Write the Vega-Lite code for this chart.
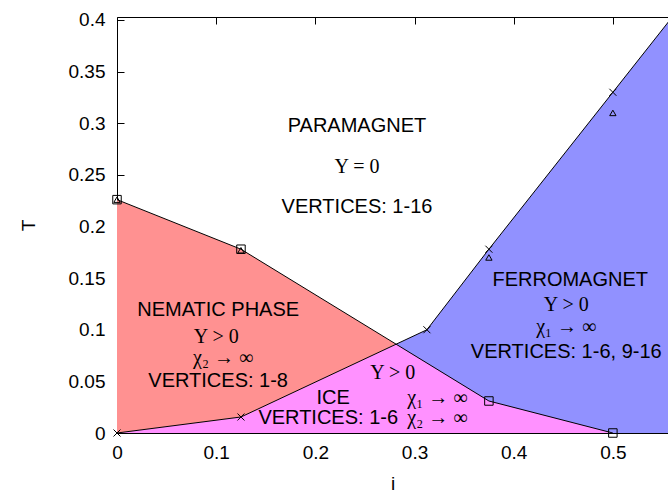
{
  "$schema": "https://vega.github.io/schema/vega-lite/v6.json",
  "width": 551,
  "height": 416,
  "autosize": {"type": "none"},
  "padding": {"left": 117, "top": 17, "right": 0, "bottom": 59},
  "background": "white",
  "config": {
    "view": {"stroke": null},
    "font": "Liberation Sans",
    "axis": {
      "domainColor": "black",
      "domainWidth": 1,
      "tickColor": "black",
      "tickWidth": 1,
      "tickSize": -7,
      "grid": false,
      "labelFlush": false,
      "labelFont": "Liberation Sans",
      "labelFontSize": 19,
      "labelColor": "black",
      "titleFont": "Liberation Sans",
      "titleFontSize": 19,
      "titleFontWeight": "normal",
      "titleColor": "black"
    }
  },
  "datasets": {
    "ferro": [
      {"i": 0.2814, "T": 0.086},
      {"i": 0.3125, "T": 0.1},
      {"i": 0.375, "T": 0.178},
      {"i": 0.5, "T": 0.33},
      {"i": 0.56, "T": 0.403}
    ],
    "ice": [
      {"i": 0, "T": 0},
      {"i": 0.125, "T": 0.0155},
      {"i": 0.2814, "T": 0.086},
      {"i": 0.375, "T": 0.031},
      {"i": 0.5, "T": 0}
    ],
    "nematic": [
      {"i": 0, "T": 0.226, "T0": 0},
      {"i": 0.125, "T": 0.178, "T0": 0.0155},
      {"i": 0.2814, "T": 0.086, "T0": 0.086}
    ],
    "boundaries": [
      {"line": "upper", "i": 0, "T": 0.226},
      {"line": "upper", "i": 0.125, "T": 0.178},
      {"line": "upper", "i": 0.375, "T": 0.031},
      {"line": "upper", "i": 0.5, "T": 0},
      {"line": "lower", "i": 0, "T": 0},
      {"line": "lower", "i": 0.125, "T": 0.0155},
      {"line": "lower", "i": 0.3125, "T": 0.1},
      {"line": "lower", "i": 0.375, "T": 0.178},
      {"line": "lower", "i": 0.5, "T": 0.33},
      {"line": "lower", "i": 0.56, "T": 0.403}
    ],
    "markers": [
      {"kind": "square", "i": 0, "T": 0.226},
      {"kind": "square", "i": 0.125, "T": 0.178},
      {"kind": "square", "i": 0.375, "T": 0.031},
      {"kind": "square", "i": 0.5, "T": 0},
      {"kind": "triangle", "i": 0, "T": 0.226},
      {"kind": "triangle", "i": 0.125, "T": 0.177},
      {"kind": "triangle", "i": 0.375, "T": 0.17},
      {"kind": "triangle", "i": 0.5, "T": 0.31},
      {"kind": "cross", "i": 0, "T": 0},
      {"kind": "cross", "i": 0.125, "T": 0.0155},
      {"kind": "cross", "i": 0.3125, "T": 0.1},
      {"kind": "cross", "i": 0.375, "T": 0.178},
      {"kind": "cross", "i": 0.5, "T": 0.33}
    ],
    "labels_sans": [
      {"i": 0.242, "T": 0.2973, "text": "PARAMAGNET"},
      {"i": 0.242, "T": 0.2189, "text": "VERTICES: 1-16"},
      {"i": 0.102, "T": 0.1191, "text": "NEMATIC PHASE"},
      {"i": 0.102, "T": 0.0504, "text": "VERTICES: 1-8"},
      {"i": 0.218, "T": 0.0339, "text": "ICE"},
      {"i": 0.213, "T": 0.0145, "text": "VERTICES: 1-6"},
      {"i": 0.457, "T": 0.1482, "text": "FERROMAGNET"},
      {"i": 0.453, "T": 0.0785, "text": "VERTICES: 1-6, 9-16"}
    ],
    "labels_serif": [
      {"i": 0.242, "T": 0.2576, "text": "Υ = 0"},
      {"i": 0.1, "T": 0.093, "text": "Υ > 0"},
      {"i": 0.107, "T": 0.0726, "text": "χ₂ → ∞"},
      {"i": 0.278, "T": 0.0581, "text": "Υ > 0"},
      {"i": 0.323, "T": 0.0339, "text": "χ₁ → ∞"},
      {"i": 0.323, "T": 0.0145, "text": "χ₂ → ∞"},
      {"i": 0.453, "T": 0.124, "text": "Υ > 0"},
      {"i": 0.453, "T": 0.1027, "text": "χ₁ → ∞"}
    ]
  },
  "layer": [
    {
      "data": {"name": "ferro"},
      "mark": {"type": "area", "color": "#9191ff", "clip": true},
      "encoding": {
        "x": {
          "field": "i", "type": "quantitative",
          "scale": {"domain": [0, 0.5556], "nice": false, "zero": false},
          "axis": {"orient": "bottom", "title": "i", "values": [0, 0.1, 0.2, 0.3, 0.4, 0.5], "format": "~g", "labelPadding": 17, "titlePadding": 12}
        },
        "y": {
          "field": "T", "type": "quantitative",
          "scale": {"domain": [0, 0.4029], "nice": false},
          "axis": {"orient": "left", "title": "T", "values": [0, 0.05, 0.1, 0.15, 0.2, 0.25, 0.3, 0.35, 0.4], "format": "~g", "labelPadding": 19, "titlePadding": 30}
        },
        "y2": {"datum": 0}
      }
    },
    {
      "data": {"name": "ice"},
      "mark": {"type": "area", "color": "#ff91ff"},
      "encoding": {
        "x": {"field": "i", "type": "quantitative", "axis": {"orient": "top", "title": null, "labels": false, "values": [0, 0.1, 0.2, 0.3, 0.4, 0.5]}},
        "y": {"field": "T", "type": "quantitative", "axis": null},
        "y2": {"datum": 0}
      }
    },
    {
      "data": {"name": "nematic"},
      "mark": {"type": "area", "color": "#ff9191"},
      "encoding": {
        "x": {"field": "i", "type": "quantitative", "axis": null},
        "y": {"field": "T", "type": "quantitative", "axis": null},
        "y2": {"field": "T0"}
      }
    },
    {
      "data": {"name": "boundaries"},
      "mark": {"type": "line", "color": "black", "strokeWidth": 1, "clip": true},
      "encoding": {
        "x": {"field": "i", "type": "quantitative", "axis": null},
        "y": {"field": "T", "type": "quantitative", "axis": null},
        "detail": {"field": "line"}
      }
    },
    {
      "data": {"name": "markers"},
      "transform": [{"filter": "datum.kind === 'square'"}],
      "mark": {"type": "point", "shape": "square", "filled": false, "color": "black", "size": 72, "strokeWidth": 1, "opacity": 1},
      "encoding": {
        "x": {"field": "i", "type": "quantitative", "axis": null},
        "y": {"field": "T", "type": "quantitative", "axis": null}
      }
    },
    {
      "data": {"name": "markers"},
      "transform": [{"filter": "datum.kind === 'triangle'"}],
      "mark": {"type": "point", "shape": "triangle-up", "filled": false, "color": "black", "size": 40, "strokeWidth": 1, "opacity": 1},
      "encoding": {
        "x": {"field": "i", "type": "quantitative", "axis": null},
        "y": {"field": "T", "type": "quantitative", "axis": null}
      }
    },
    {
      "data": {"name": "markers"},
      "transform": [{"filter": "datum.kind === 'cross'"}],
      "mark": {"type": "point", "shape": "M-1,-1L1,1M1,-1L-1,1", "filled": false, "color": "black", "size": 49, "strokeWidth": 1, "opacity": 1},
      "encoding": {
        "x": {"field": "i", "type": "quantitative", "axis": null},
        "y": {"field": "T", "type": "quantitative", "axis": null}
      }
    },
    {
      "data": {"name": "labels_sans"},
      "mark": {"type": "text", "font": "Liberation Sans", "fontSize": 20, "color": "black", "align": "center", "baseline": "middle"},
      "encoding": {
        "x": {"field": "i", "type": "quantitative", "axis": null},
        "y": {"field": "T", "type": "quantitative", "axis": null},
        "text": {"field": "text"}
      }
    },
    {
      "data": {"name": "labels_serif"},
      "mark": {"type": "text", "font": "Liberation Serif", "fontSize": 20, "color": "black", "align": "center", "baseline": "middle"},
      "encoding": {
        "x": {"field": "i", "type": "quantitative", "axis": null},
        "y": {"field": "T", "type": "quantitative", "axis": null},
        "text": {"field": "text"}
      }
    }
  ],
  "resolve": {"axis": {"x": "independent", "y": "independent"}}
}
